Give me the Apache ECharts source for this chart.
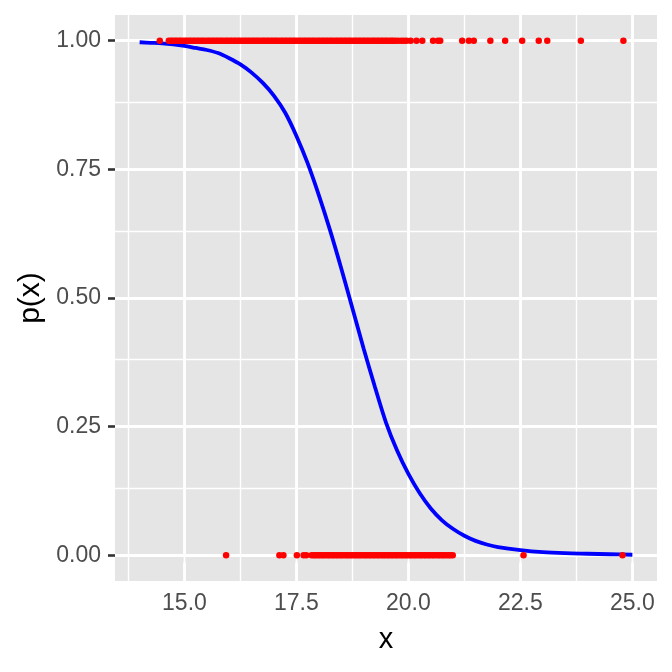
<!DOCTYPE html>
<html>
<head>
<meta charset="utf-8">
<script src="https://cdn.jsdelivr.net/npm/echarts@6/dist/echarts.min.js"></script>
<style>
html,body{margin:0;padding:0;background:#fff;}
#chart{width:672px;height:672px;}
</style>
</head>
<body>
<div id="chart"></div>
<script>
// Observed outcomes with y = 1
const xOnes = [14.45,
 14.65, 14.70, 14.74, 14.79, 14.83, 14.88, 14.92, 14.97, 15.02, 15.06, 15.11, 15.15, 15.20, 15.24, 15.29, 15.33,
 15.38, 15.42, 15.47, 15.52, 15.56, 15.61, 15.65, 15.70, 15.74, 15.79, 15.83, 15.88, 15.93, 15.97, 16.02, 16.06,
 16.11, 16.15, 16.20, 16.24, 16.29, 16.34, 16.38, 16.43, 16.47, 16.52, 16.56, 16.61, 16.65, 16.70, 16.75, 16.79,
 16.84, 16.88, 16.93, 16.97, 17.02, 17.06, 17.11, 17.16, 17.20, 17.25, 17.29, 17.34, 17.38, 17.43, 17.47, 17.52,
 17.57, 17.61, 17.66, 17.70, 17.75, 17.79, 17.84, 17.88, 17.93, 17.98, 18.02, 18.07, 18.11, 18.16, 18.20, 18.25,
 18.29, 18.34, 18.39, 18.43, 18.48, 18.52, 18.57, 18.61, 18.66, 18.70, 18.75, 18.80, 18.84, 18.89, 18.93, 18.98,
 19.02, 19.07, 19.11, 19.16, 19.21, 19.25, 19.30, 19.34, 19.39, 19.43, 19.48, 19.52, 19.57, 19.62, 19.66, 19.71,
 19.77, 19.84, 19.90, 19.96,
 20.05, 20.18, 20.31, 20.55, 20.66, 20.71, 21.20, 21.35, 21.46, 21.83, 22.16, 22.54, 22.91, 23.10, 23.85, 24.80];

// Observed outcomes with y = 0
const xZeros = [15.93, 17.12, 17.21, 17.51, 17.66, 17.72,
 17.84, 17.89, 17.93, 17.98, 18.02, 18.07, 18.11, 18.16, 18.21, 18.25, 18.30, 18.34, 18.39, 18.43, 18.48, 18.52,
 18.57, 18.62, 18.66, 18.71, 18.75, 18.80, 18.84, 18.89, 18.93, 18.98, 19.03, 19.07, 19.12, 19.16, 19.21, 19.25,
 19.30, 19.34, 19.39, 19.44, 19.48, 19.53, 19.57, 19.62, 19.66, 19.71, 19.75, 19.80, 19.85, 19.89, 19.94, 19.98,
 20.03, 20.07, 20.12, 20.16, 20.21, 20.26, 20.30, 20.35, 20.39, 20.44, 20.48, 20.53, 20.57, 20.62, 20.67, 20.71,
 20.76, 20.80, 20.85, 20.90, 20.94, 20.99,
 22.57, 24.78];

// Fitted curve p(x) at regular x positions
const curveX = [14.0, 14.25, 14.5, 14.75, 15.0, 15.25, 15.5, 15.75, 16.0, 16.25, 16.5, 16.75, 17.0, 17.25,
 17.5, 17.75, 18.0, 18.25, 18.5, 18.75, 19.0, 19.25, 19.5, 19.75, 20.0, 20.25, 20.5, 20.75, 21.0, 21.25,
 21.5, 21.75, 22.0, 22.5, 23.0, 23.5, 24.0, 24.5, 25.0];
const curveP = [0.997, 0.996, 0.995, 0.993, 0.990, 0.986, 0.982, 0.976, 0.966, 0.954, 0.938, 0.918, 0.893, 0.860,
 0.815, 0.762, 0.700, 0.632, 0.558, 0.480, 0.402, 0.328, 0.258, 0.203, 0.158, 0.121, 0.091, 0.068, 0.051, 0.038,
 0.028, 0.021, 0.016, 0.010, 0.006, 0.004, 0.003, 0.002, 0.001];

// Axis ticks
const xTicks = [15, 17.5, 20, 22.5, 25];
const xMinor = [13.75, 16.25, 18.75, 21.25, 23.75];
const yTicks = [0, 0.25, 0.5, 0.75, 1];
const yMinor = [0.125, 0.375, 0.625, 0.875];

const FONT = '"Liberation Sans", Arial, Helvetica, sans-serif';
const chart = echarts.init(document.getElementById('chart'), null, {renderer: 'canvas'});

const gridLines = [];
xMinor.forEach(v => gridLines.push({xAxis: v, lineStyle: {color: '#ffffff', width: 1.4, type: 'solid'}}));
yMinor.forEach(v => gridLines.push({yAxis: v, lineStyle: {color: '#ffffff', width: 1.4, type: 'solid'}}));
xTicks.forEach(v => gridLines.push({xAxis: v, lineStyle: {color: '#ffffff', width: 2.8, type: 'solid'}}));
yTicks.forEach(v => gridLines.push({yAxis: v, lineStyle: {color: '#ffffff', width: 2.8, type: 'solid'}}));

chart.setOption({
  animation: false,
  backgroundColor: '#ffffff',
  textStyle: {fontFamily: FONT},
  grid: {left: 115, right: 15, top: 15, bottom: 91, show: true, backgroundColor: '#E5E5E5', borderWidth: 0},
  xAxis: {
    type: 'value', min: 13.45, max: 25.55,
    name: 'x', nameLocation: 'middle', nameGap: 44,
    nameTextStyle: {fontSize: 29, color: '#000000', fontFamily: FONT},
    axisLine: {show: false},
    axisTick: {show: true, length: 7, customValues: xTicks, lineStyle: {color: '#333333', width: 2.6}},
    axisLabel: {show: true, customValues: xTicks, fontSize: 23, color: '#4D4D4D', margin: 11, fontFamily: FONT,
      formatter: v => Number(v).toFixed(1)},
    splitLine: {show: false}
  },
  yAxis: {
    type: 'value', min: -0.05, max: 1.05,
    name: 'p(x)', nameLocation: 'middle', nameGap: 67,
    nameTextStyle: {fontSize: 30, color: '#000000', fontFamily: FONT},
    axisLine: {show: false},
    axisTick: {show: true, length: 7, customValues: yTicks, lineStyle: {color: '#333333', width: 2.6}},
    axisLabel: {show: true, customValues: yTicks, fontSize: 23, color: '#4D4D4D', margin: 14, fontFamily: FONT,
      formatter: v => Number(v).toFixed(2)},
    splitLine: {show: false}
  },
  series: [
    {
      type: 'line', name: 'grid', z: 1, silent: true,
      data: [[20, 0.5]], showSymbol: false, symbolSize: 0,
      lineStyle: {opacity: 0},
      markLine: {z: 1, silent: true, symbol: ['none', 'none'], label: {show: false}, animation: false,
        emphasis: {disabled: true}, data: gridLines}
    },
    {
      type: 'line', name: 'fit', z: 2, smooth: 0.3, showSymbol: false,
      data: curveX.map((x, i) => [x, curveP[i]]),
      lineStyle: {color: '#0000FF', width: 3.8}
    },
    {
      type: 'scatter', name: 'ones', z: 3, symbol: 'circle', symbolSize: 6.5,
      data: xOnes.map(x => [x, 1]),
      itemStyle: {color: '#FF0000', opacity: 1}
    },
    {
      type: 'scatter', name: 'zeros', z: 3, symbol: 'circle', symbolSize: 6.5,
      data: xZeros.map(x => [x, 0]),
      itemStyle: {color: '#FF0000', opacity: 1}
    }
  ]
});
</script>
</body>
</html>
